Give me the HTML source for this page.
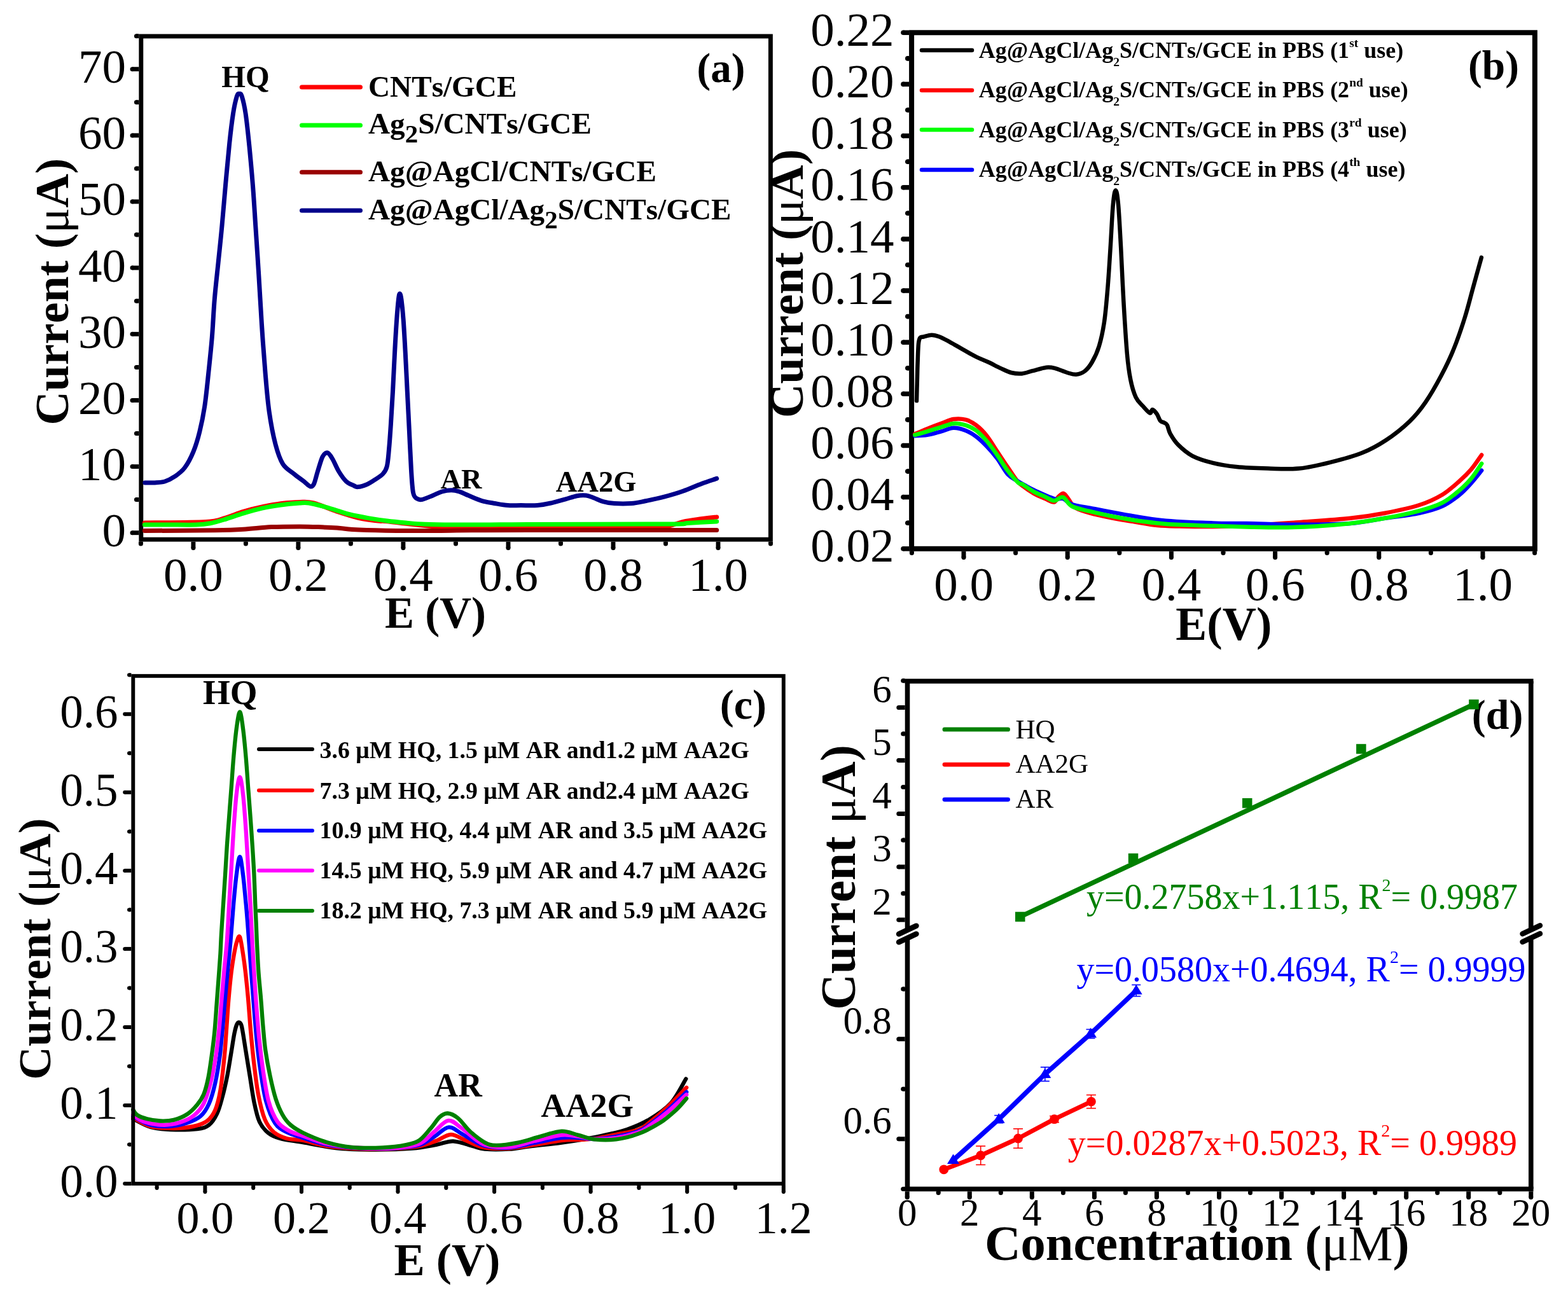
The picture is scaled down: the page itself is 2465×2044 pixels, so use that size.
<!DOCTYPE html>
<html><head><meta charset="utf-8"><title>Figure</title>
<style>html,body{margin:0;padding:0;background:#fff;width:2465px;height:2044px;overflow:hidden}
svg{display:block}text{font-kerning:none}</style></head>
<body><svg xmlns="http://www.w3.org/2000/svg" width="2465" height="2044" viewBox="0 0 2465 2044" font-family="Liberation Serif, Times New Roman, serif"><line x1="218.4" y1="837.7" x2="208" y2="837.7" stroke="#000" stroke-width="6.9" stroke-linecap="butt"/>
<circle cx="208" cy="837.7" r="3.5" fill="#000"/>
<line x1="218.4" y1="733.6" x2="208" y2="733.6" stroke="#000" stroke-width="6.9" stroke-linecap="butt"/>
<circle cx="208" cy="733.6" r="3.5" fill="#000"/>
<line x1="218.4" y1="629.4" x2="208" y2="629.4" stroke="#000" stroke-width="6.9" stroke-linecap="butt"/>
<circle cx="208" cy="629.4" r="3.5" fill="#000"/>
<line x1="218.4" y1="525.3" x2="208" y2="525.3" stroke="#000" stroke-width="6.9" stroke-linecap="butt"/>
<circle cx="208" cy="525.3" r="3.5" fill="#000"/>
<line x1="218.4" y1="421.1" x2="208" y2="421.1" stroke="#000" stroke-width="6.9" stroke-linecap="butt"/>
<circle cx="208" cy="421.1" r="3.5" fill="#000"/>
<line x1="218.4" y1="317" x2="208" y2="317" stroke="#000" stroke-width="6.9" stroke-linecap="butt"/>
<circle cx="208" cy="317" r="3.5" fill="#000"/>
<line x1="218.4" y1="212.9" x2="208" y2="212.9" stroke="#000" stroke-width="6.9" stroke-linecap="butt"/>
<circle cx="208" cy="212.9" r="3.5" fill="#000"/>
<line x1="218.4" y1="108.7" x2="208" y2="108.7" stroke="#000" stroke-width="6.9" stroke-linecap="butt"/>
<circle cx="208" cy="108.7" r="3.5" fill="#000"/>
<line x1="218.4" y1="785.6" x2="214.4" y2="785.6" stroke="#000" stroke-width="6.9" stroke-linecap="butt"/>
<circle cx="214.4" cy="785.6" r="3.5" fill="#000"/>
<line x1="218.4" y1="681.5" x2="214.4" y2="681.5" stroke="#000" stroke-width="6.9" stroke-linecap="butt"/>
<circle cx="214.4" cy="681.5" r="3.5" fill="#000"/>
<line x1="218.4" y1="577.4" x2="214.4" y2="577.4" stroke="#000" stroke-width="6.9" stroke-linecap="butt"/>
<circle cx="214.4" cy="577.4" r="3.5" fill="#000"/>
<line x1="218.4" y1="473.2" x2="214.4" y2="473.2" stroke="#000" stroke-width="6.9" stroke-linecap="butt"/>
<circle cx="214.4" cy="473.2" r="3.5" fill="#000"/>
<line x1="218.4" y1="369.1" x2="214.4" y2="369.1" stroke="#000" stroke-width="6.9" stroke-linecap="butt"/>
<circle cx="214.4" cy="369.1" r="3.5" fill="#000"/>
<line x1="218.4" y1="264.9" x2="214.4" y2="264.9" stroke="#000" stroke-width="6.9" stroke-linecap="butt"/>
<circle cx="214.4" cy="264.9" r="3.5" fill="#000"/>
<line x1="218.4" y1="160.8" x2="214.4" y2="160.8" stroke="#000" stroke-width="6.9" stroke-linecap="butt"/>
<circle cx="214.4" cy="160.8" r="3.5" fill="#000"/>
<line x1="218.4" y1="56.7" x2="214.4" y2="56.7" stroke="#000" stroke-width="6.9" stroke-linecap="butt"/>
<circle cx="214.4" cy="56.7" r="3.5" fill="#000"/>
<line x1="303.9" y1="851.7" x2="303.9" y2="861.5" stroke="#000" stroke-width="6.9" stroke-linecap="butt"/>
<circle cx="303.9" cy="861.5" r="3.5" fill="#000"/>
<line x1="468.9" y1="851.7" x2="468.9" y2="861.5" stroke="#000" stroke-width="6.9" stroke-linecap="butt"/>
<circle cx="468.9" cy="861.5" r="3.5" fill="#000"/>
<line x1="633.9" y1="851.7" x2="633.9" y2="861.5" stroke="#000" stroke-width="6.9" stroke-linecap="butt"/>
<circle cx="633.9" cy="861.5" r="3.5" fill="#000"/>
<line x1="799" y1="851.7" x2="799" y2="861.5" stroke="#000" stroke-width="6.9" stroke-linecap="butt"/>
<circle cx="799" cy="861.5" r="3.5" fill="#000"/>
<line x1="964" y1="851.7" x2="964" y2="861.5" stroke="#000" stroke-width="6.9" stroke-linecap="butt"/>
<circle cx="964" cy="861.5" r="3.5" fill="#000"/>
<line x1="1129" y1="851.7" x2="1129" y2="861.5" stroke="#000" stroke-width="6.9" stroke-linecap="butt"/>
<circle cx="1129" cy="861.5" r="3.5" fill="#000"/>
<line x1="221.4" y1="851.7" x2="221.4" y2="855" stroke="#000" stroke-width="6.9" stroke-linecap="butt"/>
<circle cx="221.4" cy="855" r="3.5" fill="#000"/>
<line x1="386.4" y1="851.7" x2="386.4" y2="855" stroke="#000" stroke-width="6.9" stroke-linecap="butt"/>
<circle cx="386.4" cy="855" r="3.5" fill="#000"/>
<line x1="551.4" y1="851.7" x2="551.4" y2="855" stroke="#000" stroke-width="6.9" stroke-linecap="butt"/>
<circle cx="551.4" cy="855" r="3.5" fill="#000"/>
<line x1="716.5" y1="851.7" x2="716.5" y2="855" stroke="#000" stroke-width="6.9" stroke-linecap="butt"/>
<circle cx="716.5" cy="855" r="3.5" fill="#000"/>
<line x1="881.5" y1="851.7" x2="881.5" y2="855" stroke="#000" stroke-width="6.9" stroke-linecap="butt"/>
<circle cx="881.5" cy="855" r="3.5" fill="#000"/>
<line x1="1046.5" y1="851.7" x2="1046.5" y2="855" stroke="#000" stroke-width="6.9" stroke-linecap="butt"/>
<circle cx="1046.5" cy="855" r="3.5" fill="#000"/>
<line x1="1211.5" y1="851.7" x2="1211.5" y2="855" stroke="#000" stroke-width="6.9" stroke-linecap="butt"/>
<circle cx="1211.5" cy="855" r="3.5" fill="#000"/>
<rect x="221.8" y="57" width="989.6" height="791.2" fill="none" stroke="#000" stroke-width="6.9"/>
<text x="198" y="859.1" font-size="75" text-anchor="end" fill="#000">0</text>
<text x="198" y="755" font-size="75" text-anchor="end" fill="#000">10</text>
<text x="198" y="650.8" font-size="75" text-anchor="end" fill="#000">20</text>
<text x="198" y="546.7" font-size="75" text-anchor="end" fill="#000">30</text>
<text x="198" y="442.5" font-size="75" text-anchor="end" fill="#000">40</text>
<text x="198" y="338.4" font-size="75" text-anchor="end" fill="#000">50</text>
<text x="198" y="234.3" font-size="75" text-anchor="end" fill="#000">60</text>
<text x="198" y="130.1" font-size="75" text-anchor="end" fill="#000">70</text>
<text x="303.9" y="928.6" font-size="75" text-anchor="middle" fill="#000">0.0</text>
<text x="468.9" y="928.6" font-size="75" text-anchor="middle" fill="#000">0.2</text>
<text x="633.9" y="928.6" font-size="75" text-anchor="middle" fill="#000">0.4</text>
<text x="799" y="928.6" font-size="75" text-anchor="middle" fill="#000">0.6</text>
<text x="964" y="928.6" font-size="75" text-anchor="middle" fill="#000">0.8</text>
<text x="1129" y="928.6" font-size="75" text-anchor="middle" fill="#000">1.0</text>
<text x="107" y="668.6" font-size="74" font-weight="bold" text-anchor="start" fill="#000" transform="rotate(-90 107 668.6)">Current (<tspan font-weight="normal">μ</tspan>A)</text>
<text x="605" y="986.9" font-size="69" font-weight="bold" text-anchor="start" fill="#000">E (V)</text>
<text x="1095.5" y="129.1" font-size="65" font-weight="bold" text-anchor="start" fill="#000">(a)</text>
<text x="348.3" y="137.1" font-size="48.5" font-weight="bold" text-anchor="start" fill="#000">HQ</text>
<text x="692.5" y="767.8" font-size="45" font-weight="bold" text-anchor="start" fill="#000">AR</text>
<text x="873.8" y="772.6" font-size="46.5" font-weight="bold" text-anchor="start" fill="#000">AA2G</text>
<line x1="474.5" y1="137" x2="566.5" y2="137" stroke="#ff0000" stroke-width="7" stroke-linecap="round"/>
<line x1="474.5" y1="197" x2="566.5" y2="197" stroke="#00ff00" stroke-width="7" stroke-linecap="round"/>
<line x1="474.5" y1="270.7" x2="566.5" y2="270.7" stroke="#990000" stroke-width="7" stroke-linecap="round"/>
<line x1="474.5" y1="331" x2="566.5" y2="331" stroke="#00008b" stroke-width="7" stroke-linecap="round"/>
<text x="579" y="151.7" font-size="47.2" font-weight="bold" text-anchor="start" fill="#000">CNTs/GCE</text>
<text x="579" y="210" font-size="47.2" font-weight="bold" text-anchor="start" fill="#000">Ag<tspan font-size="41" dy="13.7">2</tspan><tspan dy="-13.7">S/CNTs/GCE</tspan></text>
<text x="579" y="285.4" font-size="47.2" font-weight="bold" text-anchor="start" fill="#000">Ag@AgCl/CNTs/GCE</text>
<text x="579" y="345.4" font-size="47.2" font-weight="bold" text-anchor="start" fill="#000">Ag@AgCl/Ag<tspan font-size="41" dy="13.7">2</tspan><tspan dy="-13.7">S/CNTs/GCE</tspan></text>
<path d="M227.4,822 C243.4,821.8 302.4,821.7 323.3,820.5 C344.2,819.3 343,817.3 352.9,814.6 C362.8,811.9 372.6,807.2 382.4,804.3 C392.2,801.3 402.1,799 411.9,796.9 C421.7,794.8 431.5,792.9 441.4,791.7 C451.2,790.5 462.4,789.6 471,789.5 C479.6,789.4 483.3,788.5 493.1,791 C502.9,793.5 518.1,800.4 530,804.3 C541.9,808.2 553.7,812.1 564.3,814.6 C574.9,817.1 586.4,818.1 593.8,819 C601.2,819.9 598.8,818.8 608.6,819.8 C618.5,820.8 635.7,823.4 652.9,825 C670.1,826.6 689.8,828.7 711.9,829.4 C734,830.1 766,829.4 785.7,829.4 C805.4,829.4 790.6,829.5 830,829.6 C869.4,829.7 985,830.3 1021.9,829.9 C1058.8,829.5 1042.8,828.6 1051.4,827 C1060,825.4 1066.2,822 1073.6,820.3 C1081,818.6 1086.8,817.8 1095.7,816.6 C1104.6,815.4 1121.5,813.5 1126.7,812.9" fill="none" stroke="#ff0000" stroke-width="7" stroke-linejoin="round" stroke-linecap="round"/>
<path d="M227.4,825 C233.6,825 250.8,825 264.3,825 C277.8,825 297.5,825.4 308.6,825 C319.7,824.6 323.3,824.1 330.7,822.7 C338.1,821.3 344.3,819.4 352.9,816.8 C361.5,814.2 372.6,810.2 382.4,807.2 C392.2,804.2 402.1,801.3 411.9,799.1 C421.7,796.9 431.5,795.4 441.4,794 C451.2,792.6 463.6,791.5 471,791 C478.4,790.5 479.6,790.1 485.7,791 C491.8,791.9 500.5,794.2 507.9,796.2 C515.3,798.2 523.1,800.7 530,802.8 C536.9,804.9 541.3,806.7 549.5,808.7 C557.7,810.7 569.1,812.9 579,814.6 C588.9,816.3 598.8,817.8 608.6,819 C618.5,820.2 628.3,821.1 638.1,822 C647.9,822.9 655.3,823.7 667.6,824.2 C679.9,824.7 694.7,824.9 711.9,825 C729.1,825.1 751.3,825.1 771,825 C790.7,824.9 783.3,824.7 830,824.5 C876.7,824.3 1009.6,824.3 1051.4,824 C1093.2,823.7 1068.5,823.2 1081,822.5 C1093.5,821.8 1119.1,820.3 1126.7,819.9" fill="none" stroke="#00ff00" stroke-width="7" stroke-linejoin="round" stroke-linecap="round"/>
<path d="M227.4,834.5 C245.9,834.4 312.3,834.2 338.1,833.8 C363.9,833.4 367.6,833.2 382.4,832.3 C397.2,831.4 411.9,829.3 426.7,828.6 C441.5,827.9 458.7,827.9 471,827.9 C483.3,827.9 490.7,828.2 500.5,828.6 C510.3,829 519.4,829.4 530,830.1 C540.6,830.9 548.8,832.4 564.3,833.1 C579.8,833.8 603.6,834.3 623.3,834.5 C643,834.7 662.7,834.6 682.4,834.5 C702.1,834.4 716.8,833.9 741.4,833.8 C766,833.6 790.6,833.6 830,833.6 C869.4,833.6 928.1,833.6 977.6,833.6 C1027,833.6 1101.9,833.6 1126.7,833.6" fill="none" stroke="#990000" stroke-width="7" stroke-linejoin="round" stroke-linecap="round"/>
<path d="M227.8,758.9 C230.4,758.9 238.2,759.2 243.4,758.9 C248.6,758.6 253.9,758.6 259.1,757 C264.3,755.4 269.5,752.8 274.7,749.2 C279.9,745.6 285.4,742 290.3,735.5 C295.2,729 300.1,719.6 304,710.1 C307.9,700.6 310.9,690.5 313.8,678.8 C316.7,667.1 319.3,654.7 321.6,639.7 C323.9,624.7 325.6,607.1 327.5,588.9 C329.4,570.7 331.7,549.8 333.3,530.3 C334.9,510.8 335.6,491.2 337.2,471.7 C338.8,452.2 341.1,432.6 343.1,413.1 C345.1,393.6 347.1,375.4 349,354.5 C350.9,333.6 352.9,309.5 354.8,288 C356.8,266.5 358.8,243.7 360.7,225.5 C362.6,207.3 364.6,191 366.5,178.6 C368.4,166.2 370.8,156.5 372.4,151.3 C374,146.1 375,147.4 376.3,147.4 C377.6,147.4 378.6,146.1 380.2,151.3 C381.8,156.5 384.2,165.6 386.1,178.6 C388.1,191.6 389.9,209.9 391.9,229.4 C393.8,248.9 396.2,275 397.8,295.9 C399.4,316.8 400.2,331.7 401.7,354.5 C403.2,377.3 405.2,406.6 406.8,432.6 C408.4,458.7 409.8,484.8 411.5,510.8 C413.2,536.9 415.4,566.1 417.3,588.9 C419.2,611.7 420.6,629.4 423.2,647.6 C425.8,665.9 429.4,684.7 433,698.4 C436.6,712.1 439.8,721.8 444.7,729.6 C449.6,737.4 456.8,740.6 462.3,745.2 C467.8,749.8 473.7,753.7 477.9,757 C482.1,760.3 485.1,764.1 487.7,764.8 C490.3,765.4 491.6,764.8 493.5,760.9 C495.4,757 497.1,748.5 499.4,741.3 C501.7,734.1 504.6,722.8 507.2,717.9 C509.8,713 512.4,711.4 515,712 C517.6,712.6 519.9,716.9 522.8,721.8 C525.7,726.7 529,735.4 532.6,741.3 C536.2,747.2 540.4,753.3 544.3,757 C548.2,760.7 553,762.1 556.1,763.5 C559.2,764.9 559.2,765.9 562.7,765.6 C566.2,765.3 572.7,763.4 577.2,761.5 C581.7,759.6 585.5,757 589.6,754.2 C593.7,751.5 598.9,748.4 602,745 C605.1,741.6 606.7,739.6 608.2,733.6 C609.8,727.6 610.3,719.8 611.3,708.8 C612.3,697.8 613.4,682.9 614.4,667.4 C615.4,651.9 616.5,634.7 617.5,615.7 C618.5,596.8 619.6,572.7 620.6,553.7 C621.6,534.8 622.7,515.8 623.7,502 C624.7,488.2 625.6,477.7 626.4,471 C627.2,464.3 627.7,461.7 628.5,461.7 C629.3,461.7 630.1,464.3 631,471 C631.9,477.7 633.1,488.2 634.1,502 C635.1,515.8 636.2,534.8 637.2,553.7 C638.2,572.7 639.3,595 640.3,615.7 C641.3,636.4 642.4,657 643.4,677.7 C644.4,698.4 645.5,723.6 646.5,739.8 C647.5,756 648.1,767.5 649.6,774.9 C651.1,782.3 653.4,782.5 655.8,784.2 C658.2,785.9 659.9,786.2 664,785.3 C668.1,784.4 675.4,781.1 680.6,779 C685.8,776.9 690.2,774.3 695,772.9 C699.8,771.5 705,770.8 709.5,770.8 C714,770.8 717.4,771.5 721.9,772.9 C726.4,774.3 730.5,776.6 736.4,779 C742.3,781.4 750.2,785.2 757.1,787.3 C764,789.4 770.8,790.3 777.7,791.5 C784.6,792.7 791.5,794.1 798.4,794.6 C805.3,795.1 811.4,794.6 819.1,794.6 C826.8,794.6 836.8,795.1 844.8,794.5 C852.8,793.9 859.5,792.4 866.9,790.8 C874.3,789.2 882.4,786.8 889,784.9 C895.6,783 901.4,780.7 906.8,779.7 C912.2,778.7 917.1,778.5 921.5,779 C925.9,779.5 928.9,781.1 933.3,782.7 C937.7,784.3 942.7,787.1 948.1,788.6 C953.5,790.1 958.4,791 965.8,791.5 C973.2,792 984.3,792.1 992.4,791.5 C1000.5,790.9 1005.9,789.5 1014.5,787.8 C1023.1,786.1 1034.2,783.8 1044.1,781.2 C1053.9,778.6 1063.8,775.8 1073.6,772.3 C1083.4,768.8 1094.2,763.8 1103.1,760.5 C1111.9,757.2 1122.8,753.8 1126.7,752.4" fill="none" stroke="#00008b" stroke-width="7" stroke-linejoin="round" stroke-linecap="round"/>
<line x1="1429.1" y1="862.8" x2="1420" y2="862.8" stroke="#000" stroke-width="7.5" stroke-linecap="butt"/>
<circle cx="1420" cy="862.8" r="3.8" fill="#000"/>
<line x1="1429.1" y1="781.6" x2="1420" y2="781.6" stroke="#000" stroke-width="7.5" stroke-linecap="butt"/>
<circle cx="1420" cy="781.6" r="3.8" fill="#000"/>
<line x1="1429.1" y1="700.5" x2="1420" y2="700.5" stroke="#000" stroke-width="7.5" stroke-linecap="butt"/>
<circle cx="1420" cy="700.5" r="3.8" fill="#000"/>
<line x1="1429.1" y1="619.3" x2="1420" y2="619.3" stroke="#000" stroke-width="7.5" stroke-linecap="butt"/>
<circle cx="1420" cy="619.3" r="3.8" fill="#000"/>
<line x1="1429.1" y1="538.2" x2="1420" y2="538.2" stroke="#000" stroke-width="7.5" stroke-linecap="butt"/>
<circle cx="1420" cy="538.2" r="3.8" fill="#000"/>
<line x1="1429.1" y1="457" x2="1420" y2="457" stroke="#000" stroke-width="7.5" stroke-linecap="butt"/>
<circle cx="1420" cy="457" r="3.8" fill="#000"/>
<line x1="1429.1" y1="375.9" x2="1420" y2="375.9" stroke="#000" stroke-width="7.5" stroke-linecap="butt"/>
<circle cx="1420" cy="375.9" r="3.8" fill="#000"/>
<line x1="1429.1" y1="294.7" x2="1420" y2="294.7" stroke="#000" stroke-width="7.5" stroke-linecap="butt"/>
<circle cx="1420" cy="294.7" r="3.8" fill="#000"/>
<line x1="1429.1" y1="213.6" x2="1420" y2="213.6" stroke="#000" stroke-width="7.5" stroke-linecap="butt"/>
<circle cx="1420" cy="213.6" r="3.8" fill="#000"/>
<line x1="1429.1" y1="132.4" x2="1420" y2="132.4" stroke="#000" stroke-width="7.5" stroke-linecap="butt"/>
<circle cx="1420" cy="132.4" r="3.8" fill="#000"/>
<line x1="1429.1" y1="51.3" x2="1420" y2="51.3" stroke="#000" stroke-width="7.5" stroke-linecap="butt"/>
<circle cx="1420" cy="51.3" r="3.8" fill="#000"/>
<line x1="1429.1" y1="822.2" x2="1426.8" y2="822.2" stroke="#000" stroke-width="7.5" stroke-linecap="butt"/>
<circle cx="1426.8" cy="822.2" r="3.8" fill="#000"/>
<line x1="1429.1" y1="741.1" x2="1426.8" y2="741.1" stroke="#000" stroke-width="7.5" stroke-linecap="butt"/>
<circle cx="1426.8" cy="741.1" r="3.8" fill="#000"/>
<line x1="1429.1" y1="659.9" x2="1426.8" y2="659.9" stroke="#000" stroke-width="7.5" stroke-linecap="butt"/>
<circle cx="1426.8" cy="659.9" r="3.8" fill="#000"/>
<line x1="1429.1" y1="578.8" x2="1426.8" y2="578.8" stroke="#000" stroke-width="7.5" stroke-linecap="butt"/>
<circle cx="1426.8" cy="578.8" r="3.8" fill="#000"/>
<line x1="1429.1" y1="497.6" x2="1426.8" y2="497.6" stroke="#000" stroke-width="7.5" stroke-linecap="butt"/>
<circle cx="1426.8" cy="497.6" r="3.8" fill="#000"/>
<line x1="1429.1" y1="416.5" x2="1426.8" y2="416.5" stroke="#000" stroke-width="7.5" stroke-linecap="butt"/>
<circle cx="1426.8" cy="416.5" r="3.8" fill="#000"/>
<line x1="1429.1" y1="335.3" x2="1426.8" y2="335.3" stroke="#000" stroke-width="7.5" stroke-linecap="butt"/>
<circle cx="1426.8" cy="335.3" r="3.8" fill="#000"/>
<line x1="1429.1" y1="254.2" x2="1426.8" y2="254.2" stroke="#000" stroke-width="7.5" stroke-linecap="butt"/>
<circle cx="1426.8" cy="254.2" r="3.8" fill="#000"/>
<line x1="1429.1" y1="173" x2="1426.8" y2="173" stroke="#000" stroke-width="7.5" stroke-linecap="butt"/>
<circle cx="1426.8" cy="173" r="3.8" fill="#000"/>
<line x1="1429.1" y1="91.9" x2="1426.8" y2="91.9" stroke="#000" stroke-width="7.5" stroke-linecap="butt"/>
<circle cx="1426.8" cy="91.9" r="3.8" fill="#000"/>
<line x1="1515" y1="866.8" x2="1515" y2="876.5" stroke="#000" stroke-width="7" stroke-linecap="butt"/>
<circle cx="1515" cy="876.5" r="3.5" fill="#000"/>
<line x1="1678.2" y1="866.8" x2="1678.2" y2="876.5" stroke="#000" stroke-width="7" stroke-linecap="butt"/>
<circle cx="1678.2" cy="876.5" r="3.5" fill="#000"/>
<line x1="1841.4" y1="866.8" x2="1841.4" y2="876.5" stroke="#000" stroke-width="7" stroke-linecap="butt"/>
<circle cx="1841.4" cy="876.5" r="3.5" fill="#000"/>
<line x1="2004.6" y1="866.8" x2="2004.6" y2="876.5" stroke="#000" stroke-width="7" stroke-linecap="butt"/>
<circle cx="2004.6" cy="876.5" r="3.5" fill="#000"/>
<line x1="2167.8" y1="866.8" x2="2167.8" y2="876.5" stroke="#000" stroke-width="7" stroke-linecap="butt"/>
<circle cx="2167.8" cy="876.5" r="3.5" fill="#000"/>
<line x1="2331" y1="866.8" x2="2331" y2="876.5" stroke="#000" stroke-width="7" stroke-linecap="butt"/>
<circle cx="2331" cy="876.5" r="3.5" fill="#000"/>
<line x1="1433.4" y1="866.8" x2="1433.4" y2="869.5" stroke="#000" stroke-width="7" stroke-linecap="butt"/>
<circle cx="1433.4" cy="869.5" r="3.5" fill="#000"/>
<line x1="1596.6" y1="866.8" x2="1596.6" y2="869.5" stroke="#000" stroke-width="7" stroke-linecap="butt"/>
<circle cx="1596.6" cy="869.5" r="3.5" fill="#000"/>
<line x1="1759.8" y1="866.8" x2="1759.8" y2="869.5" stroke="#000" stroke-width="7" stroke-linecap="butt"/>
<circle cx="1759.8" cy="869.5" r="3.5" fill="#000"/>
<line x1="1923" y1="866.8" x2="1923" y2="869.5" stroke="#000" stroke-width="7" stroke-linecap="butt"/>
<circle cx="1923" cy="869.5" r="3.5" fill="#000"/>
<line x1="2086.2" y1="866.8" x2="2086.2" y2="869.5" stroke="#000" stroke-width="7" stroke-linecap="butt"/>
<circle cx="2086.2" cy="869.5" r="3.5" fill="#000"/>
<line x1="2249.4" y1="866.8" x2="2249.4" y2="869.5" stroke="#000" stroke-width="7" stroke-linecap="butt"/>
<circle cx="2249.4" cy="869.5" r="3.5" fill="#000"/>
<line x1="2412.6" y1="866.8" x2="2412.6" y2="869.5" stroke="#000" stroke-width="7" stroke-linecap="butt"/>
<circle cx="2412.6" cy="869.5" r="3.5" fill="#000"/>
<rect x="1433.1" y="51.3" width="979.8" height="811.5" fill="none" stroke="#000" stroke-width="8"/>
<text x="1405.5" y="883.4" font-size="75" text-anchor="end" fill="#000">0.02</text>
<text x="1405.5" y="802.2" font-size="75" text-anchor="end" fill="#000">0.04</text>
<text x="1405.5" y="721.1" font-size="75" text-anchor="end" fill="#000">0.06</text>
<text x="1405.5" y="639.9" font-size="75" text-anchor="end" fill="#000">0.08</text>
<text x="1405.5" y="558.8" font-size="75" text-anchor="end" fill="#000">0.10</text>
<text x="1405.5" y="477.6" font-size="75" text-anchor="end" fill="#000">0.12</text>
<text x="1405.5" y="396.5" font-size="75" text-anchor="end" fill="#000">0.14</text>
<text x="1405.5" y="315.3" font-size="75" text-anchor="end" fill="#000">0.16</text>
<text x="1405.5" y="234.2" font-size="75" text-anchor="end" fill="#000">0.18</text>
<text x="1405.5" y="153" font-size="75" text-anchor="end" fill="#000">0.20</text>
<text x="1405.5" y="71.9" font-size="75" text-anchor="end" fill="#000">0.22</text>
<text x="1515" y="944.3" font-size="75" text-anchor="middle" fill="#000">0.0</text>
<text x="1678.2" y="944.3" font-size="75" text-anchor="middle" fill="#000">0.2</text>
<text x="1841.4" y="944.3" font-size="75" text-anchor="middle" fill="#000">0.4</text>
<text x="2004.6" y="944.3" font-size="75" text-anchor="middle" fill="#000">0.6</text>
<text x="2167.8" y="944.3" font-size="75" text-anchor="middle" fill="#000">0.8</text>
<text x="2331" y="944.3" font-size="75" text-anchor="middle" fill="#000">1.0</text>
<clipPath id="cb"><rect x="1214" y="0" width="300" height="1000"/></clipPath>
<g clip-path="url(#cb)">
<text x="1261.7" y="657.2" font-size="74.5" font-weight="bold" text-anchor="start" fill="#000" transform="rotate(-90 1261.7 657.2)">Current (<tspan font-weight="normal">μ</tspan>A)</text>
</g>
<text x="1848.3" y="1005.7" font-size="73.5" font-weight="bold" text-anchor="start" fill="#000">E(V)</text>
<text x="2308" y="124.6" font-size="65.5" font-weight="bold" text-anchor="start" fill="#000">(b)</text>
<line x1="1449" y1="79" x2="1528" y2="79" stroke="#000000" stroke-width="6.5" stroke-linecap="round"/>
<text x="1538.8" y="91.2" font-size="36" font-weight="bold" text-anchor="start" fill="#000">Ag@AgCl/Ag<tspan font-size="19.5" dy="13">2</tspan><tspan dy="-13">S/CNTs/GCE in PBS (1</tspan><tspan font-size="19.5" dy="-17">st</tspan><tspan dy="17"> use)</tspan></text>
<line x1="1449" y1="141.9" x2="1528" y2="141.9" stroke="#ff0000" stroke-width="6.5" stroke-linecap="round"/>
<text x="1538.8" y="153.3" font-size="36" font-weight="bold" text-anchor="start" fill="#000">Ag@AgCl/Ag<tspan font-size="19.5" dy="13">2</tspan><tspan dy="-13">S/CNTs/GCE in PBS (2</tspan><tspan font-size="19.5" dy="-17">nd</tspan><tspan dy="17"> use)</tspan></text>
<line x1="1449" y1="204" x2="1528" y2="204" stroke="#00ff00" stroke-width="6.5" stroke-linecap="round"/>
<text x="1538.8" y="216.2" font-size="36" font-weight="bold" text-anchor="start" fill="#000">Ag@AgCl/Ag<tspan font-size="19.5" dy="13">2</tspan><tspan dy="-13">S/CNTs/GCE in PBS (3</tspan><tspan font-size="19.5" dy="-17">rd</tspan><tspan dy="17"> use)</tspan></text>
<line x1="1449" y1="266.9" x2="1528" y2="266.9" stroke="#0000ff" stroke-width="6.5" stroke-linecap="round"/>
<text x="1538.8" y="277.9" font-size="36" font-weight="bold" text-anchor="start" fill="#000">Ag@AgCl/Ag<tspan font-size="19.5" dy="13">2</tspan><tspan dy="-13">S/CNTs/GCE in PBS (4</tspan><tspan font-size="19.5" dy="-17">th</tspan><tspan dy="17"> use)</tspan></text>
<path d="M1438.3,682.5 C1441.5,681.1 1450.7,677 1457.6,674.2 C1464.5,671.4 1472.7,668.4 1479.6,665.9 C1486.5,663.4 1492.5,660 1498.9,659 C1505.3,658 1512.2,658.3 1518.2,659.9 C1524.2,661.5 1529.3,664.5 1534.8,668.7 C1540.3,672.9 1545.8,678.3 1551.3,685.2 C1556.8,692.1 1562.3,701.7 1567.8,710 C1573.3,718.3 1579.3,727.4 1584.4,734.9 C1589.5,742.4 1594.3,750.1 1598.2,755 C1602.1,759.9 1603.1,760.5 1607.6,764 C1612.1,767.5 1619.3,772.5 1625.2,775.8 C1631.1,779.1 1637.6,781.7 1642.9,784 C1648.2,786.3 1653.5,790 1657,789.5 C1660.5,789 1661.5,783.3 1664,781 C1666.5,778.7 1669.3,775.1 1672,775.8 C1674.7,776.5 1677,781.3 1680,785 C1683,788.7 1684.5,794.4 1690,798 C1695.5,801.6 1703.5,803.9 1713.3,806.6 C1723.1,809.4 1736.8,812.2 1748.6,814.5 C1760.3,816.8 1772.1,818.6 1783.8,820.5 C1795.5,822.4 1807.2,824.8 1819,826 C1830.8,827.2 1839.6,827.2 1854.3,827.5 C1869,827.8 1889.5,828.2 1907.1,828 C1924.7,827.8 1937.6,827.6 1960,826.5 C1982.4,825.4 2014.2,823.2 2041.4,821.2 C2068.6,819.2 2100.3,817.2 2122.9,814.8 C2145.5,812.4 2159.1,810.2 2177.2,806.7 C2195.3,803.2 2216.3,798.8 2231.4,794 C2246.5,789.2 2257,784 2267.6,777.7 C2278.2,771.4 2287.2,762.6 2294.8,756 C2302.4,749.4 2307.2,744.7 2312.9,737.9 C2318.6,731.1 2326.5,719.1 2329.2,715.3" fill="none" stroke="#ff0000" stroke-width="6.5" stroke-linejoin="round" stroke-linecap="round"/>
<path d="M1438.3,685.2 C1441.5,685 1450.7,685 1457.6,683.9 C1464.5,682.8 1472.7,680.1 1479.6,678.3 C1486.5,676.4 1492.5,673 1498.9,672.8 C1505.3,672.6 1512.2,674.7 1518.2,677 C1524.2,679.3 1529.3,682.5 1534.8,686.6 C1540.3,690.7 1545.8,696 1551.3,701.8 C1556.8,707.5 1562.3,713.8 1567.8,721.1 C1573.3,728.5 1579.3,740.2 1584.4,745.9 C1589.5,751.6 1594.3,753 1598.2,755.5 C1602.1,758 1603.1,758.5 1607.6,761 C1612.1,763.5 1617,766.7 1625.2,770.5 C1633.4,774.3 1649.4,781.8 1657,784 C1664.6,786.2 1666.3,782.5 1671,784 C1675.7,785.5 1678,790.5 1685.1,793 C1692.1,795.5 1691,794.7 1713.3,798.7 C1735.6,802.7 1786.7,813.2 1819,817.2 C1851.3,821.2 1883.6,821.4 1907.1,822.4 C1930.6,823.4 1937.6,822.6 1960,823 C1982.4,823.4 2014.2,824.8 2041.4,824.8 C2068.6,824.8 2100.3,824.7 2122.9,823 C2145.5,821.3 2159.1,817.5 2177.2,814.8 C2195.3,812.1 2216.3,809.9 2231.4,806.7 C2246.5,803.5 2257,800.6 2267.6,795.8 C2278.2,791 2287.2,783.7 2294.8,777.7 C2302.4,771.7 2307.2,765.9 2312.9,759.6 C2318.6,753.3 2326.5,743 2329.2,739.7" fill="none" stroke="#0000ff" stroke-width="6.5" stroke-linejoin="round" stroke-linecap="round"/>
<path d="M1438.3,683.9 C1441.5,683 1450.7,680.4 1457.6,678.3 C1464.5,676.2 1472.7,673.6 1479.6,671.5 C1486.5,669.4 1492.5,666.4 1498.9,665.9 C1505.3,665.4 1512.2,666.9 1518.2,668.7 C1524.2,670.6 1529.3,672.9 1534.8,677 C1540.3,681.1 1545.8,687.1 1551.3,693.5 C1556.8,699.9 1562.3,707.8 1567.8,715.6 C1573.3,723.4 1578.9,733.2 1584.4,740.4 C1589.9,747.6 1597,755.5 1600.9,759 C1604.8,762.5 1603.5,759.4 1607.6,761.7 C1611.6,764.1 1619.3,769.9 1625.2,773.1 C1631.1,776.3 1637.6,778.6 1642.9,781 C1648.2,783.4 1652.3,787.1 1657,787.2 C1661.7,787.4 1666.3,780.4 1671,781.9 C1675.7,783.4 1678,792.3 1685.1,796 C1692.1,799.7 1702.7,801.2 1713.3,803.9 C1723.9,806.5 1736.8,809.5 1748.6,811.9 C1760.3,814.2 1772.1,816.2 1783.8,818 C1795.5,819.8 1807.2,821.2 1819,822.4 C1830.8,823.6 1839.6,824.4 1854.3,825.1 C1869,825.8 1889.5,826.2 1907.1,826.8 C1924.7,827.3 1942.1,828 1960,828.4 C1977.9,828.8 1996.2,829.4 2014.3,829.3 C2032.4,829.1 2050.5,828.5 2068.6,827.5 C2086.7,826.5 2104.8,825.1 2122.9,823 C2141,820.9 2159.1,818.1 2177.2,814.8 C2195.3,811.5 2216.3,807.2 2231.4,803.1 C2246.5,799 2257,795.8 2267.6,790.4 C2278.2,785 2287.2,776.8 2294.8,770.5 C2302.4,764.2 2307.2,759.3 2312.9,752.4 C2318.6,745.5 2326.5,732.8 2329.2,728.9" fill="none" stroke="#00ff00" stroke-width="6.5" stroke-linejoin="round" stroke-linecap="round"/>
<path d="M1441,630.1 C1441.1,625.1 1441.5,610 1441.8,600 C1442.1,590 1442.2,580 1442.6,570 C1443,560 1443.3,546.5 1444,540 C1444.7,533.5 1445.2,532.8 1446.5,531 C1447.8,529.2 1449,530.2 1452,529.5 C1455,528.8 1460.3,526.7 1464.5,526.7 C1468.7,526.7 1472.1,527.6 1476.9,529.5 C1481.7,531.4 1487.4,534.6 1493.4,537.8 C1499.4,541 1505.8,544.9 1512.7,548.8 C1519.6,552.7 1527.9,557.8 1534.8,561.2 C1541.7,564.7 1547.6,566.5 1554,569.5 C1560.4,572.5 1567.4,576.4 1573.4,579.1 C1579.4,581.9 1584.4,584.6 1589.9,586 C1595.4,587.4 1600.9,587.9 1606.4,587.4 C1611.9,586.9 1616.6,584.8 1623,583.2 C1629.4,581.6 1639,578.4 1645,577.7 C1651,577 1653.3,577.7 1658.8,579.1 C1664.3,580.5 1672.6,584.4 1678.1,586 C1683.6,587.6 1687.3,589.3 1691.9,588.8 C1696.5,588.3 1701.6,586.4 1705.7,583.2 C1709.8,580 1713,575.9 1716.7,569.5 C1720.4,563.1 1724.5,555.2 1727.7,544.6 C1730.9,534 1733.7,521.6 1736,506 C1738.3,490.4 1739.9,470.2 1741.5,450.9 C1743.1,431.6 1744.2,411.9 1745.6,390.3 C1747,368.7 1748.4,336.6 1749.8,321.4 C1751.2,306.2 1752.5,299.3 1753.9,299.3 C1755.3,299.3 1756.6,306.2 1758,321.4 C1759.4,336.6 1760.8,365 1762.2,390.3 C1763.6,415.6 1764.7,445.4 1766.3,473 C1767.9,500.6 1770,535 1771.8,555.7 C1773.6,576.4 1775,585.5 1777.3,597 C1779.6,608.5 1782.4,617.7 1785.6,624.6 C1788.8,631.5 1792.9,634.3 1796.6,638.4 C1800.3,642.5 1805.2,648.5 1807.7,649.4 C1810.2,650.3 1810,643.7 1811.8,643.9 C1813.6,644.1 1816.6,647.8 1818.7,650.8 C1820.8,653.8 1822.3,659.5 1824.2,661.8 C1826.1,664.1 1828.2,663.4 1830,664.5 C1831.8,665.6 1833.3,665.6 1834.9,668.5 C1836.5,671.4 1836.9,677 1839.8,682.1 C1842.7,687.2 1846.4,693.6 1852.2,699.4 C1858,705.2 1865.4,712 1874.5,716.8 C1883.6,721.5 1895.2,725 1906.7,727.9 C1918.2,730.8 1929.4,732.6 1943.8,734.1 C1958.2,735.6 1976.8,736.2 1993.3,736.6 C2009.8,737 2026.4,738.2 2042.9,736.6 C2059.4,735 2075.9,730.8 2092.4,726.7 C2108.9,722.6 2127.5,717.6 2141.9,711.8 C2156.3,706 2166.6,700.2 2179,692 C2191.4,683.8 2205.9,672.2 2216.2,662.3 C2226.5,652.4 2232.7,644.6 2240.9,632.6 C2249.2,620.6 2258.3,604.5 2265.7,590.5 C2273.1,576.5 2279.3,563.7 2285.5,548.4 C2291.7,533.1 2298,514.6 2302.9,498.9 C2307.8,483.2 2310.9,470 2315.2,454.3 C2319.5,438.6 2326.6,413.1 2328.9,404.8" fill="none" stroke="#000000" stroke-width="6.5" stroke-linejoin="round" stroke-linecap="round"/>
<line x1="206.4" y1="1861.1" x2="196.2" y2="1861.1" stroke="#000" stroke-width="6" stroke-linecap="butt"/>
<circle cx="196.2" cy="1861.1" r="3" fill="#000"/>
<line x1="206.4" y1="1738" x2="196.2" y2="1738" stroke="#000" stroke-width="6" stroke-linecap="butt"/>
<circle cx="196.2" cy="1738" r="3" fill="#000"/>
<line x1="206.4" y1="1615" x2="196.2" y2="1615" stroke="#000" stroke-width="6" stroke-linecap="butt"/>
<circle cx="196.2" cy="1615" r="3" fill="#000"/>
<line x1="206.4" y1="1491.9" x2="196.2" y2="1491.9" stroke="#000" stroke-width="6" stroke-linecap="butt"/>
<circle cx="196.2" cy="1491.9" r="3" fill="#000"/>
<line x1="206.4" y1="1368.9" x2="196.2" y2="1368.9" stroke="#000" stroke-width="6" stroke-linecap="butt"/>
<circle cx="196.2" cy="1368.9" r="3" fill="#000"/>
<line x1="206.4" y1="1245.8" x2="196.2" y2="1245.8" stroke="#000" stroke-width="6" stroke-linecap="butt"/>
<circle cx="196.2" cy="1245.8" r="3" fill="#000"/>
<line x1="206.4" y1="1122.8" x2="196.2" y2="1122.8" stroke="#000" stroke-width="6" stroke-linecap="butt"/>
<circle cx="196.2" cy="1122.8" r="3" fill="#000"/>
<line x1="206.4" y1="1799.6" x2="203" y2="1799.6" stroke="#000" stroke-width="6" stroke-linecap="butt"/>
<circle cx="203" cy="1799.6" r="3" fill="#000"/>
<line x1="206.4" y1="1676.5" x2="203" y2="1676.5" stroke="#000" stroke-width="6" stroke-linecap="butt"/>
<circle cx="203" cy="1676.5" r="3" fill="#000"/>
<line x1="206.4" y1="1553.5" x2="203" y2="1553.5" stroke="#000" stroke-width="6" stroke-linecap="butt"/>
<circle cx="203" cy="1553.5" r="3" fill="#000"/>
<line x1="206.4" y1="1430.4" x2="203" y2="1430.4" stroke="#000" stroke-width="6" stroke-linecap="butt"/>
<circle cx="203" cy="1430.4" r="3" fill="#000"/>
<line x1="206.4" y1="1307.4" x2="203" y2="1307.4" stroke="#000" stroke-width="6" stroke-linecap="butt"/>
<circle cx="203" cy="1307.4" r="3" fill="#000"/>
<line x1="206.4" y1="1184.3" x2="203" y2="1184.3" stroke="#000" stroke-width="6" stroke-linecap="butt"/>
<circle cx="203" cy="1184.3" r="3" fill="#000"/>
<line x1="206.4" y1="1061.3" x2="203" y2="1061.3" stroke="#000" stroke-width="6" stroke-linecap="butt"/>
<circle cx="203" cy="1061.3" r="3" fill="#000"/>
<line x1="322.4" y1="1864" x2="322.4" y2="1874" stroke="#000" stroke-width="6" stroke-linecap="butt"/>
<circle cx="322.4" cy="1874" r="3" fill="#000"/>
<line x1="474" y1="1864" x2="474" y2="1874" stroke="#000" stroke-width="6" stroke-linecap="butt"/>
<circle cx="474" cy="1874" r="3" fill="#000"/>
<line x1="625.5" y1="1864" x2="625.5" y2="1874" stroke="#000" stroke-width="6" stroke-linecap="butt"/>
<circle cx="625.5" cy="1874" r="3" fill="#000"/>
<line x1="777.1" y1="1864" x2="777.1" y2="1874" stroke="#000" stroke-width="6" stroke-linecap="butt"/>
<circle cx="777.1" cy="1874" r="3" fill="#000"/>
<line x1="928.6" y1="1864" x2="928.6" y2="1874" stroke="#000" stroke-width="6" stroke-linecap="butt"/>
<circle cx="928.6" cy="1874" r="3" fill="#000"/>
<line x1="1080.2" y1="1864" x2="1080.2" y2="1874" stroke="#000" stroke-width="6" stroke-linecap="butt"/>
<circle cx="1080.2" cy="1874" r="3" fill="#000"/>
<line x1="1231.8" y1="1864" x2="1231.8" y2="1874" stroke="#000" stroke-width="6" stroke-linecap="butt"/>
<circle cx="1231.8" cy="1874" r="3" fill="#000"/>
<line x1="246.6" y1="1864" x2="246.6" y2="1868" stroke="#000" stroke-width="6" stroke-linecap="butt"/>
<circle cx="246.6" cy="1868" r="3" fill="#000"/>
<line x1="398.2" y1="1864" x2="398.2" y2="1868" stroke="#000" stroke-width="6" stroke-linecap="butt"/>
<circle cx="398.2" cy="1868" r="3" fill="#000"/>
<line x1="549.7" y1="1864" x2="549.7" y2="1868" stroke="#000" stroke-width="6" stroke-linecap="butt"/>
<circle cx="549.7" cy="1868" r="3" fill="#000"/>
<line x1="701.3" y1="1864" x2="701.3" y2="1868" stroke="#000" stroke-width="6" stroke-linecap="butt"/>
<circle cx="701.3" cy="1868" r="3" fill="#000"/>
<line x1="852.9" y1="1864" x2="852.9" y2="1868" stroke="#000" stroke-width="6" stroke-linecap="butt"/>
<circle cx="852.9" cy="1868" r="3" fill="#000"/>
<line x1="1004.4" y1="1864" x2="1004.4" y2="1868" stroke="#000" stroke-width="6" stroke-linecap="butt"/>
<circle cx="1004.4" cy="1868" r="3" fill="#000"/>
<line x1="1156" y1="1864" x2="1156" y2="1868" stroke="#000" stroke-width="6" stroke-linecap="butt"/>
<circle cx="1156" cy="1868" r="3" fill="#000"/>
<text x="185.5" y="1882.2" font-size="73" text-anchor="end" fill="#000">0.0</text>
<text x="185.5" y="1759.1" font-size="73" text-anchor="end" fill="#000">0.1</text>
<text x="185.5" y="1636.1" font-size="73" text-anchor="end" fill="#000">0.2</text>
<text x="185.5" y="1513" font-size="73" text-anchor="end" fill="#000">0.3</text>
<text x="185.5" y="1390" font-size="73" text-anchor="end" fill="#000">0.4</text>
<text x="185.5" y="1266.9" font-size="73" text-anchor="end" fill="#000">0.5</text>
<text x="185.5" y="1143.9" font-size="73" text-anchor="end" fill="#000">0.6</text>
<text x="322.4" y="1939.3" font-size="72" text-anchor="middle" fill="#000">0.0</text>
<text x="474" y="1939.3" font-size="72" text-anchor="middle" fill="#000">0.2</text>
<text x="625.5" y="1939.3" font-size="72" text-anchor="middle" fill="#000">0.4</text>
<text x="777.1" y="1939.3" font-size="72" text-anchor="middle" fill="#000">0.6</text>
<text x="928.6" y="1939.3" font-size="72" text-anchor="middle" fill="#000">0.8</text>
<text x="1080.2" y="1939.3" font-size="72" text-anchor="middle" fill="#000">1.0</text>
<text x="1231.8" y="1939.3" font-size="72" text-anchor="middle" fill="#000">1.2</text>
<text x="78.6" y="1697.7" font-size="72.5" font-weight="bold" text-anchor="start" fill="#000" transform="rotate(-90 78.6 1697.7)">Current (<tspan font-weight="normal">μ</tspan>A)</text>
<text x="619.4" y="2005.1" font-size="72.5" font-weight="bold" text-anchor="start" fill="#000">E (V)</text>
<text x="1131.7" y="1130" font-size="66" font-weight="bold" text-anchor="start" fill="#000">(c)</text>
<text x="319" y="1106.5" font-size="55" font-weight="bold" text-anchor="start" fill="#000">HQ</text>
<text x="682.6" y="1724.2" font-size="52" font-weight="bold" text-anchor="start" fill="#000">AR</text>
<text x="850.6" y="1756.3" font-size="53.4" font-weight="bold" text-anchor="start" fill="#000">AA2G</text>
<line x1="407" y1="1178" x2="491" y2="1178" stroke="#000000" stroke-width="6" stroke-linecap="round"/>
<text x="502.6" y="1192" font-size="37.8" font-weight="bold" text-anchor="start" fill="#000">3.6 μM HQ, 1.5 μM AR and1.2 μM AA2G</text>
<line x1="407" y1="1242.8" x2="491" y2="1242.8" stroke="#ff0000" stroke-width="6" stroke-linecap="round"/>
<text x="502.6" y="1256" font-size="37.8" font-weight="bold" text-anchor="start" fill="#000">7.3 μM HQ, 2.9 μM AR and2.4 μM AA2G</text>
<line x1="407" y1="1306" x2="491" y2="1306" stroke="#0000ff" stroke-width="6" stroke-linecap="round"/>
<text x="502.6" y="1318" font-size="37.8" font-weight="bold" text-anchor="start" fill="#000">10.9 μM HQ, 4.4 μM AR and 3.5 μM AA2G</text>
<line x1="407" y1="1368.8" x2="491" y2="1368.8" stroke="#ff00ff" stroke-width="6" stroke-linecap="round"/>
<text x="502.6" y="1380.8" font-size="37.8" font-weight="bold" text-anchor="start" fill="#000">14.5 μM HQ, 5.9 μM AR and 4.7 μM AA2G</text>
<line x1="407" y1="1432" x2="491" y2="1432" stroke="#008000" stroke-width="6" stroke-linecap="round"/>
<text x="502.6" y="1444" font-size="37.8" font-weight="bold" text-anchor="start" fill="#000">18.2 μM HQ, 7.3 μM AR and 5.9 μM AA2G</text>
<path d="M209.2,1759 C213.7,1761.2 226.6,1769.2 236.4,1772 C246.2,1774.8 255.7,1775.6 267.9,1776.1 C280.1,1776.6 299.7,1776.3 309.8,1775.1 C319.9,1773.9 323.4,1772.8 328.6,1768.8 C333.8,1764.8 337.7,1758.3 341.2,1751 C344.7,1743.7 347,1734.4 349.6,1724.8 C352.2,1715.2 354.6,1704.6 356.9,1693.3 C359.2,1682 361.3,1668 363.2,1656.7 C365.1,1645.4 366.9,1632.7 368.4,1625.2 C369.9,1617.7 370.8,1614.5 372,1611.5 C373.2,1608.5 374.5,1607.1 375.8,1607.5 C377.1,1607.9 378.3,1606.7 380,1614 C381.7,1621.3 384.1,1638.3 386.2,1651.3 C388.3,1664.3 390.6,1678.4 392.8,1692 C395,1705.6 397,1721 399.5,1733 C402,1745 404.2,1755.9 408,1764 C411.8,1772.1 416.6,1777.2 422,1781.5 C427.4,1785.8 431.4,1787.5 440.4,1790 C449.4,1792.5 460.7,1793.6 476.2,1796.2 C491.7,1798.8 514.2,1803.8 533.3,1805.7 C552.3,1807.6 571.5,1807.6 590.5,1807.6 C609.5,1807.6 631.7,1807 647.6,1805.7 C663.5,1804.4 674.9,1801.9 685.7,1800 C696.5,1798.1 702.9,1794 712.4,1794.3 C721.9,1794.6 734.6,1799.8 742.9,1801.9 C751.1,1804 752.4,1805.9 761.9,1806.7 C771.4,1807.5 788.4,1807.4 800,1806.7 C811.6,1806 817.6,1804.3 831.4,1802.6 C845.2,1800.9 868.6,1798.5 882.9,1796.6 C897.2,1794.7 905.7,1793.4 917.1,1791.4 C928.5,1789.4 940,1787.2 951.4,1784.6 C962.8,1782 974.3,1780 985.7,1776 C997.1,1772 1008.6,1767.4 1020,1760.6 C1031.4,1753.8 1044.6,1745.6 1054.3,1734.9 C1064,1724.2 1074.3,1702.7 1078.3,1696.3" fill="none" stroke="#000000" stroke-width="6.3" stroke-linejoin="round" stroke-linecap="round"/>
<path d="M209.2,1757.2 C213.7,1759.5 225.8,1768.1 236.4,1770.9 C247.1,1773.7 261.8,1774 273.1,1774 C284.5,1774 295.8,1772.8 304.5,1770.9 C313.2,1769 319.9,1766.7 325.5,1762.5 C331.1,1758.3 334.6,1753.7 338.1,1745.7 C341.6,1737.7 344,1728.3 346.4,1714.3 C348.8,1700.3 351.1,1677.6 352.7,1661.9 C354.3,1646.2 354.8,1635.3 355.9,1620 C357,1604.7 358.2,1585 359.5,1570 C360.8,1555 362.1,1541.7 363.5,1530 C364.9,1518.3 366.5,1508.3 368,1500 C369.5,1491.7 371,1484.5 372.5,1480 C374,1475.5 375.4,1469.7 377,1473.1 C378.6,1476.5 380.6,1490.7 382.1,1500.3 C383.6,1509.9 384.8,1518.8 386.1,1530.5 C387.4,1542.2 388.8,1555.6 390.1,1570.7 C391.4,1585.8 392.6,1604.2 394.1,1621 C395.6,1637.8 397.2,1654.5 399.2,1671.3 C401.2,1688.1 403.3,1706.8 406.2,1721.6 C409.1,1736.4 412.3,1750.2 416.3,1759.9 C420.3,1769.6 424.7,1775 430.4,1780 C436.1,1785 442.9,1787.8 450.5,1790 C458.1,1792.2 465.6,1791 476.2,1793 C486.8,1795 500.3,1799.7 514.3,1801.9 C528.3,1804.1 542.4,1805.3 560,1806 C577.6,1806.7 603.3,1806.7 620,1806 C636.7,1805.3 649.2,1804 660,1802 C670.8,1800 676.9,1797 685,1794 C693.1,1791 701.1,1784.1 708.6,1783.8 C716.1,1783.5 721.4,1788.6 730,1792 C738.6,1795.4 748.3,1801.8 760,1804 C771.7,1806.2 786.7,1806.2 800,1805.5 C813.3,1804.8 826.2,1802.1 840,1800 C853.8,1797.9 871.2,1794.4 882.9,1793.1 C894.6,1791.8 901.5,1792.4 910,1792 C918.5,1791.6 924.3,1791.8 934,1790.5 C943.7,1789.2 956.5,1786.3 968,1784 C979.5,1781.7 994.2,1779.5 1002.9,1776.5 C1011.6,1773.5 1012.1,1771.8 1020,1765.7 C1027.8,1759.6 1040.1,1749.3 1050,1740 C1059.9,1730.7 1074.3,1715 1079.2,1710" fill="none" stroke="#ff0000" stroke-width="6.3" stroke-linejoin="round" stroke-linecap="round"/>
<path d="M209.2,1755.2 C213.7,1757.5 226.6,1766.2 236.4,1768.8 C246.2,1771.4 258.3,1771.4 267.9,1770.9 C277.5,1770.4 286.2,1768.2 294.1,1765.6 C302,1763 309.2,1760.3 315,1755.2 C320.8,1750.1 324.8,1743.8 328.6,1735.2 C332.5,1726.6 335.3,1716 338.1,1703.8 C340.9,1691.6 343.5,1675.9 345.4,1661.9 C347.3,1647.9 348.2,1634.5 349.6,1620 C351,1605.5 352.1,1590.8 353.5,1575 C354.9,1559.2 356.5,1541 358,1525 C359.5,1509 361,1496.5 362.5,1479.3 C364,1462.1 365.6,1439 367.1,1421.8 C368.6,1404.6 370.1,1388.4 371.7,1375.9 C373.3,1363.5 375.3,1347.1 377,1347.1 C378.7,1347.1 380.5,1363.5 382.1,1375.9 C383.7,1388.4 385.5,1409.5 386.7,1421.8 C387.9,1434.1 388.3,1440.4 389.1,1450 C389.9,1459.6 390.6,1469.2 391.3,1479.3 C392.1,1489.4 392.5,1495.2 393.6,1510.4 C394.8,1525.6 396.6,1550.6 398.2,1570.7 C399.8,1590.8 401.4,1612.6 403.2,1631.1 C405,1649.5 406.7,1664.6 409.2,1681.4 C411.7,1698.2 414.4,1717.6 418.3,1731.7 C422.2,1745.8 427,1757.9 432.4,1765.9 C437.8,1774 443.2,1776.2 450.5,1780 C457.8,1783.8 465.6,1785.7 476.2,1789 C486.8,1792.3 500.3,1797.3 514.3,1800 C528.3,1802.7 542.4,1804.1 560,1805 C577.6,1805.9 603.3,1806.3 620,1805.5 C636.7,1804.7 649.5,1803.1 660,1800 C670.5,1796.9 675.4,1791.6 683,1787 C690.6,1782.4 698.2,1772.9 705.7,1772.4 C713.2,1771.9 719,1779.2 728,1784 C737,1788.8 748,1797.6 760,1801 C772,1804.4 786.7,1805.2 800,1804.5 C813.3,1803.8 826.2,1799.6 840,1797 C853.8,1794.4 871.2,1790.2 882.9,1788.9 C894.6,1787.6 901.5,1788.7 910,1789 C918.5,1789.3 924.3,1791.3 934,1791 C943.7,1790.7 956.5,1789 968,1787 C979.5,1785 994.2,1782 1002.9,1779 C1011.6,1776 1012.1,1774.8 1020,1769.1 C1027.8,1763.4 1040.1,1753.7 1050,1745 C1059.9,1736.3 1074.3,1721.6 1079.2,1716.9" fill="none" stroke="#0000ff" stroke-width="6.3" stroke-linejoin="round" stroke-linecap="round"/>
<path d="M209.2,1753 C212,1754.8 218,1760.9 226,1763.5 C234,1766.1 247.8,1768.6 257.4,1768.8 C267,1769 275.8,1767 283.6,1764.6 C291.5,1762.1 298.4,1759 304.5,1754.1 C310.6,1749.2 315.8,1743.6 320.2,1735.2 C324.6,1726.8 327.5,1716 330.7,1703.8 C333.9,1691.6 336.8,1675.9 339.1,1661.9 C341.4,1647.9 342.7,1635.3 344.3,1620 C345.9,1604.7 347.1,1585.8 348.5,1570 C349.9,1554.2 351.1,1540.1 352.5,1525 C353.9,1509.9 355.5,1496.5 356.8,1479.3 C358.1,1462.1 359.1,1440.9 360.2,1421.8 C361.3,1402.7 362.5,1383.6 363.7,1364.4 C364.9,1345.2 365.8,1326.1 367.1,1306.9 C368.4,1287.7 370.1,1263.6 371.7,1249.4 C373.3,1235.2 375.3,1221.8 377,1221.8 C378.7,1221.8 380.5,1235.2 382.1,1249.4 C383.7,1263.6 385.4,1287.7 386.7,1306.9 C388,1326.1 389,1345.2 390.1,1364.4 C391.2,1383.6 392.6,1404.2 393.6,1421.8 C394.6,1439.4 395.2,1455.2 396,1470 C396.8,1484.8 397.2,1493.6 398.2,1510.4 C399.2,1527.2 400.7,1550.6 402.2,1570.7 C403.7,1590.8 405.3,1612.6 407.2,1631.1 C409.1,1649.5 410.8,1664.6 413.3,1681.4 C415.8,1698.2 418.5,1718 422.3,1731.7 C426.1,1745.5 431,1756.2 436.4,1763.9 C441.8,1771.6 447.9,1774.3 454.5,1778 C461.1,1781.7 466.2,1782.6 476.2,1786 C486.2,1789.4 500.3,1795.4 514.3,1798.5 C528.3,1801.6 542.4,1803.4 560,1804.5 C577.6,1805.6 603.3,1806.1 620,1805 C636.7,1803.9 649.7,1802.2 660,1798 C670.3,1793.8 674.5,1786 682,1780 C689.5,1774 697.5,1762.9 704.8,1761.9 C712.1,1760.9 716.8,1767.8 726,1774 C735.2,1780.2 747.7,1794.1 760,1799 C772.3,1803.9 786.7,1804.3 800,1803.5 C813.3,1802.7 826.2,1797.2 840,1794 C853.8,1790.8 871.2,1785.8 882.9,1784.6 C894.6,1783.4 901.5,1785.9 910,1787 C918.5,1788.1 924.3,1790.7 934,1791 C943.7,1791.3 956.5,1790.8 968,1789 C979.5,1787.2 994.2,1783.5 1002.9,1780.5 C1011.6,1777.5 1012.1,1776.3 1020,1770.9 C1027.8,1765.5 1040.1,1756.3 1050,1748 C1059.9,1739.7 1074.3,1725.6 1079.2,1721.1" fill="none" stroke="#ff00ff" stroke-width="6.3" stroke-linejoin="round" stroke-linecap="round"/>
<path d="M209.2,1744.7 C210.2,1746.1 211.8,1750.6 215.5,1753 C219.2,1755.4 225.1,1757.7 231.2,1759.3 C237.3,1760.9 245.1,1762.2 252.1,1762.5 C259.1,1762.8 266.1,1762.7 273.1,1760.9 C280.1,1759.2 288,1755.9 294.1,1752 C300.2,1748.1 305.5,1742.5 309.8,1737.3 C314.1,1732.1 317.2,1727.9 320.2,1720.6 C323.2,1713.3 325.3,1704.8 327.6,1693.3 C329.9,1681.8 332.2,1663.6 333.9,1651.4 C335.5,1639.2 336.4,1631.9 337.5,1620 C338.6,1608.1 339.5,1593.3 340.5,1580 C341.5,1566.7 342.5,1553.3 343.5,1540 C344.5,1526.7 345.6,1512 346.4,1500 C347.1,1488 347.2,1480.8 348,1467.8 C348.8,1454.8 350,1437.1 351,1421.8 C352,1406.5 353,1391.2 354,1375.9 C355,1360.6 355.8,1345.2 356.8,1329.9 C357.8,1314.6 359.1,1299.2 360.2,1283.9 C361.3,1268.6 362.5,1253.3 363.7,1238 C364.9,1222.7 365.8,1207.3 367.1,1192 C368.4,1176.7 370.1,1158.1 371.7,1146 C373.3,1133.9 375.3,1119.5 377,1119.5 C378.7,1119.5 380.5,1133.9 382.1,1146 C383.7,1158.1 385.4,1176.7 386.7,1192 C388,1207.3 389,1222.7 390.1,1238 C391.2,1253.3 392.5,1268.6 393.6,1283.9 C394.7,1299.2 395.8,1314.6 396.8,1329.9 C397.8,1345.2 398.8,1360.6 399.5,1375.9 C400.2,1391.2 400.8,1409.5 401.3,1421.8 C401.8,1434.1 402.1,1438.6 402.6,1450 C403.1,1461.4 403.6,1476.8 404.3,1490.2 C405,1503.6 405.6,1517.1 406.6,1530.5 C407.6,1543.9 409.1,1557.3 410.2,1570.7 C411.3,1584.1 412.1,1597.6 413.3,1611 C414.5,1624.4 415.4,1637.8 417.3,1651.2 C419.2,1664.6 421.8,1678.7 424.5,1691.4 C427.2,1704.2 430.2,1717.5 433.5,1727.7 C436.8,1737.9 440.2,1745.7 444,1752.5 C447.8,1759.3 451.1,1763.8 456.5,1768.5 C461.9,1773.2 466.6,1776.4 476.2,1781 C485.8,1785.6 501.6,1792.4 514.3,1796.2 C527,1800 539.7,1802.4 552.4,1803.8 C565.1,1805.2 577.8,1805.1 590.5,1804.8 C603.2,1804.5 617.5,1803.7 628.6,1801.9 C639.7,1800.2 649.2,1798.8 657.1,1794.3 C665,1789.8 670.5,1781.5 676.2,1775.2 C681.9,1768.9 686.8,1760.3 691.4,1756.2 C696,1752.1 699,1750.2 703.8,1750.5 C708.6,1750.8 714.1,1753.3 720,1758.1 C725.9,1762.8 732,1772.7 739,1779 C746,1785.3 755.1,1792.5 761.9,1796.2 C768.7,1799.9 771.3,1800.8 780,1800.9 C788.7,1801 802.9,1798.9 814.3,1796.6 C825.7,1794.3 837.2,1790.1 848.6,1787.1 C860,1784.1 872.9,1779 882.9,1778.6 C892.9,1778.2 900,1782.5 908.6,1784.6 C917.2,1786.7 924.3,1790.3 934.3,1791.4 C944.3,1792.5 957.2,1792.8 968.6,1791.4 C980,1790 991.5,1787.2 1002.9,1782.9 C1014.3,1778.6 1027.2,1772 1037.2,1765.7 C1047.2,1759.4 1055.9,1751.5 1062.9,1745.1 C1069.9,1738.7 1076.5,1730.1 1079.2,1727.1" fill="none" stroke="#008000" stroke-width="6.3" stroke-linejoin="round" stroke-linecap="round"/>
<rect x="209.3" y="1062.8" width="1022.5" height="798.3" fill="none" stroke="#000" stroke-width="5.9"/>
<line x1="1422.7" y1="1071" x2="2410.6" y2="1071" stroke="#000" stroke-width="7.6" stroke-linecap="butt"/>
<line x1="1422.7" y1="1869.5" x2="2410.6" y2="1869.5" stroke="#000" stroke-width="7.6" stroke-linecap="butt"/>
<line x1="1426.5" y1="1071" x2="1426.5" y2="1462.5" stroke="#000" stroke-width="7.6" stroke-linecap="butt"/>
<line x1="1426.5" y1="1476.3" x2="1426.5" y2="1869.5" stroke="#000" stroke-width="7.6" stroke-linecap="butt"/>
<line x1="2406.8" y1="1071" x2="2406.8" y2="1461.8" stroke="#000" stroke-width="7.6" stroke-linecap="butt"/>
<line x1="2406.8" y1="1476.1" x2="2406.8" y2="1869.5" stroke="#000" stroke-width="7.6" stroke-linecap="butt"/>
<line x1="1413" y1="1468.6" x2="1440.5" y2="1455.6" stroke="#000" stroke-width="8.4" stroke-linecap="round"/>
<line x1="1413" y1="1481.4" x2="1440.5" y2="1468.4" stroke="#000" stroke-width="8.4" stroke-linecap="round"/>
<line x1="2393.5" y1="1468.2" x2="2421" y2="1455.2" stroke="#000" stroke-width="8.4" stroke-linecap="round"/>
<line x1="2393.5" y1="1481" x2="2421" y2="1468" stroke="#000" stroke-width="8.4" stroke-linecap="round"/>
<line x1="1410" y1="1476.5" x2="1444" y2="1460.4" stroke="#fff" stroke-width="1.4" stroke-linecap="butt"/>
<line x1="2390" y1="1476.1" x2="2424" y2="1460" stroke="#fff" stroke-width="1.4" stroke-linecap="butt"/>
<line x1="1422.7" y1="1112.4" x2="1412.8" y2="1112.4" stroke="#000" stroke-width="7" stroke-linecap="butt"/>
<circle cx="1412.8" cy="1112.4" r="3.5" fill="#000"/>
<line x1="1422.7" y1="1195.6" x2="1412.8" y2="1195.6" stroke="#000" stroke-width="7" stroke-linecap="butt"/>
<circle cx="1412.8" cy="1195.6" r="3.5" fill="#000"/>
<line x1="1422.7" y1="1279.5" x2="1412.8" y2="1279.5" stroke="#000" stroke-width="7" stroke-linecap="butt"/>
<circle cx="1412.8" cy="1279.5" r="3.5" fill="#000"/>
<line x1="1422.7" y1="1363" x2="1412.8" y2="1363" stroke="#000" stroke-width="7" stroke-linecap="butt"/>
<circle cx="1412.8" cy="1363" r="3.5" fill="#000"/>
<line x1="1422.7" y1="1446.2" x2="1412.8" y2="1446.2" stroke="#000" stroke-width="7" stroke-linecap="butt"/>
<circle cx="1412.8" cy="1446.2" r="3.5" fill="#000"/>
<line x1="1422.7" y1="1633.7" x2="1412.8" y2="1633.7" stroke="#000" stroke-width="7" stroke-linecap="butt"/>
<circle cx="1412.8" cy="1633.7" r="3.5" fill="#000"/>
<line x1="1422.7" y1="1790.8" x2="1412.8" y2="1790.8" stroke="#000" stroke-width="7" stroke-linecap="butt"/>
<circle cx="1412.8" cy="1790.8" r="3.5" fill="#000"/>
<line x1="1422.7" y1="1070.3" x2="1419.7" y2="1070.3" stroke="#000" stroke-width="7" stroke-linecap="butt"/>
<circle cx="1419.7" cy="1070.3" r="3.5" fill="#000"/>
<line x1="1422.7" y1="1153.8" x2="1419.7" y2="1153.8" stroke="#000" stroke-width="7" stroke-linecap="butt"/>
<circle cx="1419.7" cy="1153.8" r="3.5" fill="#000"/>
<line x1="1422.7" y1="1237.5" x2="1419.7" y2="1237.5" stroke="#000" stroke-width="7" stroke-linecap="butt"/>
<circle cx="1419.7" cy="1237.5" r="3.5" fill="#000"/>
<line x1="1422.7" y1="1320.9" x2="1419.7" y2="1320.9" stroke="#000" stroke-width="7" stroke-linecap="butt"/>
<circle cx="1419.7" cy="1320.9" r="3.5" fill="#000"/>
<line x1="1422.7" y1="1404.8" x2="1419.7" y2="1404.8" stroke="#000" stroke-width="7" stroke-linecap="butt"/>
<circle cx="1419.7" cy="1404.8" r="3.5" fill="#000"/>
<line x1="1422.7" y1="1555.1" x2="1419.7" y2="1555.1" stroke="#000" stroke-width="7" stroke-linecap="butt"/>
<circle cx="1419.7" cy="1555.1" r="3.5" fill="#000"/>
<line x1="1422.7" y1="1712.3" x2="1419.7" y2="1712.3" stroke="#000" stroke-width="7" stroke-linecap="butt"/>
<circle cx="1419.7" cy="1712.3" r="3.5" fill="#000"/>
<line x1="1422.7" y1="1869.4" x2="1419.7" y2="1869.4" stroke="#000" stroke-width="7" stroke-linecap="butt"/>
<circle cx="1419.7" cy="1869.4" r="3.5" fill="#000"/>
<line x1="1426.2" y1="1873.3" x2="1426.2" y2="1882.5" stroke="#000" stroke-width="7" stroke-linecap="butt"/>
<circle cx="1426.2" cy="1882.5" r="3.5" fill="#000"/>
<line x1="1524.3" y1="1873.3" x2="1524.3" y2="1882.5" stroke="#000" stroke-width="7" stroke-linecap="butt"/>
<circle cx="1524.3" cy="1882.5" r="3.5" fill="#000"/>
<line x1="1622.3" y1="1873.3" x2="1622.3" y2="1882.5" stroke="#000" stroke-width="7" stroke-linecap="butt"/>
<circle cx="1622.3" cy="1882.5" r="3.5" fill="#000"/>
<line x1="1720.4" y1="1873.3" x2="1720.4" y2="1882.5" stroke="#000" stroke-width="7" stroke-linecap="butt"/>
<circle cx="1720.4" cy="1882.5" r="3.5" fill="#000"/>
<line x1="1818.4" y1="1873.3" x2="1818.4" y2="1882.5" stroke="#000" stroke-width="7" stroke-linecap="butt"/>
<circle cx="1818.4" cy="1882.5" r="3.5" fill="#000"/>
<line x1="1916.5" y1="1873.3" x2="1916.5" y2="1882.5" stroke="#000" stroke-width="7" stroke-linecap="butt"/>
<circle cx="1916.5" cy="1882.5" r="3.5" fill="#000"/>
<line x1="2014.6" y1="1873.3" x2="2014.6" y2="1882.5" stroke="#000" stroke-width="7" stroke-linecap="butt"/>
<circle cx="2014.6" cy="1882.5" r="3.5" fill="#000"/>
<line x1="2112.6" y1="1873.3" x2="2112.6" y2="1882.5" stroke="#000" stroke-width="7" stroke-linecap="butt"/>
<circle cx="2112.6" cy="1882.5" r="3.5" fill="#000"/>
<line x1="2210.7" y1="1873.3" x2="2210.7" y2="1882.5" stroke="#000" stroke-width="7" stroke-linecap="butt"/>
<circle cx="2210.7" cy="1882.5" r="3.5" fill="#000"/>
<line x1="2308.7" y1="1873.3" x2="2308.7" y2="1882.5" stroke="#000" stroke-width="7" stroke-linecap="butt"/>
<circle cx="2308.7" cy="1882.5" r="3.5" fill="#000"/>
<line x1="2406.8" y1="1873.3" x2="2406.8" y2="1882.5" stroke="#000" stroke-width="7" stroke-linecap="butt"/>
<circle cx="2406.8" cy="1882.5" r="3.5" fill="#000"/>
<line x1="1475.2" y1="1873.3" x2="1475.2" y2="1875.5" stroke="#000" stroke-width="7" stroke-linecap="butt"/>
<circle cx="1475.2" cy="1875.5" r="3.5" fill="#000"/>
<line x1="1573.3" y1="1873.3" x2="1573.3" y2="1875.5" stroke="#000" stroke-width="7" stroke-linecap="butt"/>
<circle cx="1573.3" cy="1875.5" r="3.5" fill="#000"/>
<line x1="1671.4" y1="1873.3" x2="1671.4" y2="1875.5" stroke="#000" stroke-width="7" stroke-linecap="butt"/>
<circle cx="1671.4" cy="1875.5" r="3.5" fill="#000"/>
<line x1="1769.4" y1="1873.3" x2="1769.4" y2="1875.5" stroke="#000" stroke-width="7" stroke-linecap="butt"/>
<circle cx="1769.4" cy="1875.5" r="3.5" fill="#000"/>
<line x1="1867.5" y1="1873.3" x2="1867.5" y2="1875.5" stroke="#000" stroke-width="7" stroke-linecap="butt"/>
<circle cx="1867.5" cy="1875.5" r="3.5" fill="#000"/>
<line x1="1965.5" y1="1873.3" x2="1965.5" y2="1875.5" stroke="#000" stroke-width="7" stroke-linecap="butt"/>
<circle cx="1965.5" cy="1875.5" r="3.5" fill="#000"/>
<line x1="2063.6" y1="1873.3" x2="2063.6" y2="1875.5" stroke="#000" stroke-width="7" stroke-linecap="butt"/>
<circle cx="2063.6" cy="1875.5" r="3.5" fill="#000"/>
<line x1="2161.7" y1="1873.3" x2="2161.7" y2="1875.5" stroke="#000" stroke-width="7" stroke-linecap="butt"/>
<circle cx="2161.7" cy="1875.5" r="3.5" fill="#000"/>
<line x1="2259.7" y1="1873.3" x2="2259.7" y2="1875.5" stroke="#000" stroke-width="7" stroke-linecap="butt"/>
<circle cx="2259.7" cy="1875.5" r="3.5" fill="#000"/>
<line x1="2357.8" y1="1873.3" x2="2357.8" y2="1875.5" stroke="#000" stroke-width="7" stroke-linecap="butt"/>
<circle cx="2357.8" cy="1875.5" r="3.5" fill="#000"/>
<text x="1401.8" y="1103.8" font-size="61" text-anchor="end" fill="#000">6</text>
<text x="1401.8" y="1187" font-size="61" text-anchor="end" fill="#000">5</text>
<text x="1401.8" y="1270.9" font-size="61" text-anchor="end" fill="#000">4</text>
<text x="1401.8" y="1354.4" font-size="61" text-anchor="end" fill="#000">3</text>
<text x="1401.8" y="1437.6" font-size="61" text-anchor="end" fill="#000">2</text>
<text x="1401.8" y="1625.1" font-size="61" text-anchor="end" fill="#000">0.8</text>
<text x="1401.8" y="1782.2" font-size="61" text-anchor="end" fill="#000">0.6</text>
<text x="1426.2" y="1927" font-size="61" text-anchor="middle" fill="#000">0</text>
<text x="1524.3" y="1927" font-size="61" text-anchor="middle" fill="#000">2</text>
<text x="1622.3" y="1927" font-size="61" text-anchor="middle" fill="#000">4</text>
<text x="1720.4" y="1927" font-size="61" text-anchor="middle" fill="#000">6</text>
<text x="1818.4" y="1927" font-size="61" text-anchor="middle" fill="#000">8</text>
<text x="1916.5" y="1927" font-size="61" text-anchor="middle" fill="#000">10</text>
<text x="2014.6" y="1927" font-size="61" text-anchor="middle" fill="#000">12</text>
<text x="2112.6" y="1927" font-size="61" text-anchor="middle" fill="#000">14</text>
<text x="2210.7" y="1927" font-size="61" text-anchor="middle" fill="#000">16</text>
<text x="2308.7" y="1927" font-size="61" text-anchor="middle" fill="#000">18</text>
<text x="2406.8" y="1927" font-size="61" text-anchor="middle" fill="#000">20</text>
<text x="1344.5" y="1587.7" font-size="78" font-weight="bold" text-anchor="start" fill="#000" transform="rotate(-90 1344.5 1587.7)">Current <tspan font-weight="normal">μ</tspan>A)</text>
<text x="1547.9" y="1981" font-size="78.5" font-weight="bold" text-anchor="start" fill="#000">Concentration (<tspan font-weight="normal">μM</tspan>)</text>
<text x="2313.8" y="1146.4" font-size="66" font-weight="bold" text-anchor="start" fill="#000">(d)</text>
<line x1="1485" y1="1146.9" x2="1584.5" y2="1146.9" stroke="#008000" stroke-width="6.9" stroke-linecap="round"/>
<text x="1596.5" y="1160.6" font-size="43" text-anchor="start" fill="#000">HQ</text>
<line x1="1485" y1="1202.1" x2="1584.5" y2="1202.1" stroke="#ff0000" stroke-width="6.9" stroke-linecap="round"/>
<text x="1596.5" y="1214.9" font-size="43" text-anchor="start" fill="#000">AA2G</text>
<line x1="1485" y1="1257.1" x2="1584.5" y2="1257.1" stroke="#0000ff" stroke-width="6.9" stroke-linecap="round"/>
<text x="1596.5" y="1270.3" font-size="43" text-anchor="start" fill="#000">AR</text>
<text x="1708" y="1429" font-size="56" text-anchor="start" fill="#008000">y=0.2758x+1.115, R<tspan font-size="28" dy="-28.5">2</tspan><tspan dy="28.5">= 0.9987</tspan></text>
<text x="1692.4" y="1542.7" font-size="56" text-anchor="start" fill="#0000ff">y=0.0580x+0.4694, R<tspan font-size="28" dy="-28.5">2</tspan><tspan dy="28.5">= 0.9999</tspan></text>
<text x="1678.8" y="1815.8" font-size="56" text-anchor="start" fill="#ff0000">y=0.0287x+0.5023, R<tspan font-size="28" dy="-28.5">2</tspan><tspan dy="28.5">= 0.9989</tspan></text>
<line x1="1603.8" y1="1441.4" x2="2317" y2="1107.5" stroke="#008000" stroke-width="7.5" stroke-linecap="butt"/>
<path d="M1483.8,1838.8 L1541.7,1816.7 L1600.5,1790 L1657.5,1759.7 L1715.4,1732.1" fill="none" stroke="#ff0000" stroke-width="7" stroke-linejoin="round" stroke-linecap="round"/>
<path d="M1498.5,1824.1 L1570.2,1759.7 L1642.8,1688.9 L1714.5,1625.5 L1786.2,1557.5" fill="none" stroke="#0000ff" stroke-width="7.5" stroke-linejoin="round" stroke-linecap="round"/>
<rect x="1596" y="1433.7" width="15.5" height="15.5" fill="#008000"/>
<rect x="1773.8" y="1341.8" width="15.5" height="15.5" fill="#008000"/>
<rect x="1953" y="1255" width="15.5" height="15.5" fill="#008000"/>
<rect x="2132.1" y="1169.8" width="15.5" height="15.5" fill="#008000"/>
<rect x="2309.2" y="1099.8" width="15.5" height="15.5" fill="#008000"/>
<line x1="1541.7" y1="1802" x2="1541.7" y2="1831.4" stroke="#ff0000" stroke-width="1.6" stroke-linecap="butt"/>
<line x1="1534.2" y1="1802" x2="1549.2" y2="1802" stroke="#ff0000" stroke-width="1.6" stroke-linecap="butt"/>
<line x1="1534.2" y1="1831.4" x2="1549.2" y2="1831.4" stroke="#ff0000" stroke-width="1.6" stroke-linecap="butt"/>
<line x1="1600.5" y1="1774.8" x2="1600.5" y2="1805.2" stroke="#ff0000" stroke-width="1.6" stroke-linecap="butt"/>
<line x1="1593" y1="1774.8" x2="1608" y2="1774.8" stroke="#ff0000" stroke-width="1.6" stroke-linecap="butt"/>
<line x1="1593" y1="1805.2" x2="1608" y2="1805.2" stroke="#ff0000" stroke-width="1.6" stroke-linecap="butt"/>
<line x1="1715.4" y1="1721.6" x2="1715.4" y2="1742.6" stroke="#ff0000" stroke-width="1.6" stroke-linecap="butt"/>
<line x1="1707.9" y1="1721.6" x2="1722.9" y2="1721.6" stroke="#ff0000" stroke-width="1.6" stroke-linecap="butt"/>
<line x1="1707.9" y1="1742.6" x2="1722.9" y2="1742.6" stroke="#ff0000" stroke-width="1.6" stroke-linecap="butt"/>
<line x1="1657.5" y1="1754.7" x2="1657.5" y2="1764.7" stroke="#ff0000" stroke-width="1.6" stroke-linecap="butt"/>
<line x1="1650" y1="1754.7" x2="1665" y2="1754.7" stroke="#ff0000" stroke-width="1.6" stroke-linecap="butt"/>
<line x1="1650" y1="1764.7" x2="1665" y2="1764.7" stroke="#ff0000" stroke-width="1.6" stroke-linecap="butt"/>
<circle cx="1483.8" cy="1838.8" r="7.4" fill="#ff0000"/>
<circle cx="1541.7" cy="1816.7" r="7.4" fill="#ff0000"/>
<circle cx="1600.5" cy="1790" r="7.4" fill="#ff0000"/>
<circle cx="1657.5" cy="1759.7" r="7.4" fill="#ff0000"/>
<circle cx="1715.4" cy="1732.1" r="7.4" fill="#ff0000"/>
<line x1="1642.8" y1="1677.9" x2="1642.8" y2="1699.9" stroke="#0000ff" stroke-width="1.6" stroke-linecap="butt"/>
<line x1="1635.8" y1="1677.9" x2="1649.8" y2="1677.9" stroke="#0000ff" stroke-width="1.6" stroke-linecap="butt"/>
<line x1="1635.8" y1="1699.9" x2="1649.8" y2="1699.9" stroke="#0000ff" stroke-width="1.6" stroke-linecap="butt"/>
<line x1="1714.5" y1="1618.5" x2="1714.5" y2="1632.5" stroke="#0000ff" stroke-width="1.6" stroke-linecap="butt"/>
<line x1="1707.5" y1="1618.5" x2="1721.5" y2="1618.5" stroke="#0000ff" stroke-width="1.6" stroke-linecap="butt"/>
<line x1="1707.5" y1="1632.5" x2="1721.5" y2="1632.5" stroke="#0000ff" stroke-width="1.6" stroke-linecap="butt"/>
<line x1="1786.2" y1="1548.5" x2="1786.2" y2="1566.5" stroke="#0000ff" stroke-width="1.6" stroke-linecap="butt"/>
<line x1="1779.2" y1="1548.5" x2="1793.2" y2="1548.5" stroke="#0000ff" stroke-width="1.6" stroke-linecap="butt"/>
<line x1="1779.2" y1="1566.5" x2="1793.2" y2="1566.5" stroke="#0000ff" stroke-width="1.6" stroke-linecap="butt"/>
<line x1="1570.2" y1="1753.7" x2="1570.2" y2="1765.7" stroke="#0000ff" stroke-width="1.6" stroke-linecap="butt"/>
<line x1="1563.2" y1="1753.7" x2="1577.2" y2="1753.7" stroke="#0000ff" stroke-width="1.6" stroke-linecap="butt"/>
<line x1="1563.2" y1="1765.7" x2="1577.2" y2="1765.7" stroke="#0000ff" stroke-width="1.6" stroke-linecap="butt"/>
<path d="M1498.5,1814.6 L1508,1830.1 L1489,1830.1 Z" fill="#0000ff"/>
<path d="M1570.2,1750.2 L1579.7,1765.7 L1560.7,1765.7 Z" fill="#0000ff"/>
<path d="M1642.8,1679.4 L1652.3,1694.9 L1633.3,1694.9 Z" fill="#0000ff"/>
<path d="M1714.5,1616 L1724,1631.5 L1705,1631.5 Z" fill="#0000ff"/>
<path d="M1786.2,1548 L1795.7,1563.5 L1776.7,1563.5 Z" fill="#0000ff"/></svg></body></html>
